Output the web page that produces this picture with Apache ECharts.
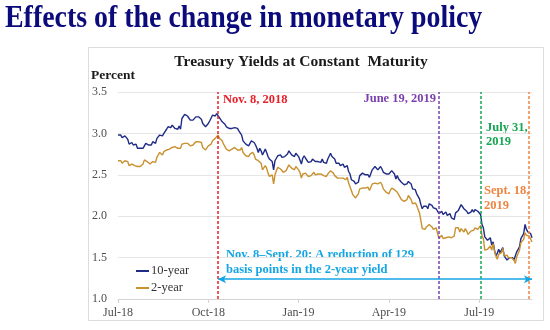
<!DOCTYPE html>
<html>
<head>
<meta charset="utf-8">
<script src="https://cdn.jsdelivr.net/npm/echarts@6/dist/echarts.min.js"></script>
<style>
  html, body { margin: 0; padding: 0; background: #ffffff; }
  #chart { width: 550px; height: 330px; }
</style>
</head>
<body>
<div id="chart"></div>
<script>
// Daily Treasury yields (percent), one value per weekday from 2018-07-31 to 2019-09-20.
const seriesNames = ['10-year', '2-year'];

const tenYear = [
  2.98, 3.00, 2.98, 2.95,
  2.94, 2.97, 2.96, 2.93, 2.87,
  2.88, 2.89, 2.86, 2.86, 2.87,
  2.82, 2.83, 2.82, 2.82, 2.82,
  2.85, 2.88, 2.88, 2.86, 2.86,
  2.86, 2.90, 2.90, 2.88, 2.94,
  2.94, 2.98, 2.97, 2.97, 3.00,
  2.99, 3.05, 3.08, 3.07, 3.07,
  3.10, 3.10, 3.06, 3.06, 3.05,
  3.09, 3.05, 3.18, 3.19, 3.23,
  3.23, 3.21, 3.22, 3.16, 3.15,
  3.16, 3.16, 3.20, 3.19, 3.20,
  3.20, 3.17, 3.12, 3.14, 3.08,
  3.08, 3.12, 3.15, 3.14, 3.22,
  3.20, 3.21, 3.24, 3.24, 3.19,
  3.19, 3.14, 3.12, 3.11, 3.08,
  3.06, 3.06, 3.06, 3.06, 3.05,
  3.07, 3.06, 3.06, 3.03, 3.01,
  2.98, 2.91, 2.91, 2.87, 2.85,
  2.85, 2.88, 2.91, 2.91, 2.89,
  2.86, 2.82, 2.77, 2.82, 2.79,
  2.74, 2.74, 2.81, 2.77, 2.72,
  2.69, 2.69, 2.66, 2.56, 2.67,
  2.70, 2.73, 2.72, 2.74, 2.71,
  2.71, 2.72, 2.73, 2.75, 2.79,
  2.79, 2.74, 2.75, 2.72, 2.76,
  2.75, 2.72, 2.70, 2.63, 2.70,
  2.73, 2.70, 2.71, 2.65, 2.63,
  2.66, 2.69, 2.71, 2.66, 2.66,
  2.66, 2.65, 2.65, 2.69, 2.65,
  2.67, 2.64, 2.69, 2.71, 2.76,
  2.72, 2.72, 2.69, 2.64, 2.62,
  2.64, 2.61, 2.61, 2.63, 2.59,
  2.60, 2.61, 2.54, 2.51, 2.44,
  2.43, 2.42, 2.39, 2.38, 2.41,
  2.49, 2.47, 2.52, 2.51, 2.50,
  2.52, 2.50, 2.47, 2.49, 2.56,
  2.55, 2.60, 2.59, 2.56, 2.56,
  2.60, 2.57, 2.53, 2.54, 2.51,
  2.53, 2.51, 2.52, 2.55, 2.54,
  2.51, 2.45, 2.49, 2.45, 2.47,
  2.41, 2.43, 2.38, 2.40, 2.39,
  2.42, 2.43, 2.39, 2.33, 2.32,
  2.32, 2.27, 2.26, 2.21, 2.14,
  2.09, 2.12, 2.12, 2.12, 2.09,
  2.15, 2.14, 2.13, 2.10, 2.09,
  2.09, 2.06, 2.03, 2.02, 2.06,
  2.02, 2.00, 2.05, 2.01, 2.00,
  2.03, 1.98, 1.96, 1.96, 2.04,
  2.05, 2.07, 2.06, 2.14, 2.12,
  2.09, 2.10, 2.06, 2.03, 2.05,
  2.05, 2.08, 2.05, 2.08, 2.08,
  2.06, 2.06, 2.02, 1.90, 1.86,
  1.75, 1.73, 1.71, 1.73, 1.74,
  1.65, 1.69, 1.59, 1.52, 1.55,
  1.60, 1.56, 1.59, 1.62, 1.52,
  1.54, 1.47, 1.47, 1.50, 1.50,
  1.50, 1.47, 1.47, 1.57, 1.55,
  1.63, 1.73, 1.75, 1.79, 1.90,
  1.84, 1.81, 1.80, 1.79, 1.74
];

const twoYear = [
  2.67, 2.69, 2.67, 2.64,
  2.64, 2.67, 2.68, 2.66, 2.61,
  2.62, 2.63, 2.61, 2.61, 2.61,
  2.60, 2.60, 2.60, 2.62, 2.63,
  2.68, 2.67, 2.66, 2.66, 2.63,
  2.63, 2.66, 2.64, 2.65, 2.71,
  2.73, 2.77, 2.75, 2.74, 2.78,
  2.78, 2.80, 2.81, 2.81, 2.81,
  2.83, 2.85, 2.84, 2.83, 2.82,
  2.82, 2.82, 2.87, 2.87, 2.88,
  2.88, 2.88, 2.88, 2.85, 2.86,
  2.86, 2.87, 2.90, 2.89, 2.90,
  2.91, 2.89, 2.83, 2.84, 2.80,
  2.81, 2.85, 2.87, 2.87, 2.91,
  2.92, 2.94, 2.96, 2.98, 2.94,
  2.94, 2.91, 2.87, 2.85, 2.81,
  2.80, 2.79, 2.81, 2.81, 2.81,
  2.83, 2.84, 2.80, 2.79, 2.80,
  2.83, 2.77, 2.77, 2.73, 2.71,
  2.72, 2.75, 2.76, 2.77, 2.74,
  2.69, 2.67, 2.67, 2.67, 2.64,
  2.56, 2.56, 2.61, 2.58, 2.52,
  2.48, 2.48, 2.50, 2.39, 2.50,
  2.55, 2.59, 2.57, 2.57, 2.55,
  2.53, 2.55, 2.55, 2.57, 2.62,
  2.62, 2.58, 2.58, 2.56, 2.60,
  2.59, 2.56, 2.53, 2.46, 2.51,
  2.53, 2.52, 2.52, 2.48, 2.46,
  2.49, 2.50, 2.53, 2.50, 2.51,
  2.51, 2.50, 2.51, 2.53, 2.49,
  2.50, 2.48, 2.51, 2.53, 2.55,
  2.53, 2.52, 2.49, 2.47, 2.46,
  2.47, 2.46, 2.45, 2.46, 2.44,
  2.44, 2.47, 2.40, 2.42, 2.31,
  2.26, 2.24, 2.22, 2.21, 2.27,
  2.33, 2.31, 2.34, 2.34, 2.34,
  2.35, 2.35, 2.31, 2.31, 2.39,
  2.38, 2.40, 2.40, 2.39, 2.39,
  2.41, 2.38, 2.33, 2.34, 2.29,
  2.28, 2.27, 2.31, 2.34, 2.34,
  2.32, 2.30, 2.29, 2.26, 2.27,
  2.20, 2.21, 2.18, 2.20, 2.20,
  2.25, 2.25, 2.20, 2.15, 2.16,
  2.16, 2.13, 2.12, 2.04, 1.95,
  1.85, 1.87, 1.84, 1.87, 1.85,
  1.90, 1.89, 1.87, 1.84, 1.84,
  1.86, 1.85, 1.73, 1.75, 1.77,
  1.73, 1.71, 1.74, 1.75, 1.75,
  1.75, 1.74, 1.76, 1.76, 1.86,
  1.87, 1.86, 1.81, 1.85, 1.85,
  1.81, 1.85, 1.82, 1.78, 1.80,
  1.82, 1.83, 1.83, 1.86, 1.85,
  1.84, 1.86, 1.89, 1.76, 1.73,
  1.59, 1.58, 1.60, 1.62, 1.64,
  1.59, 1.67, 1.58, 1.52, 1.48,
  1.54, 1.54, 1.56, 1.61, 1.52,
  1.54, 1.53, 1.50, 1.52, 1.50,
  1.50, 1.47, 1.43, 1.51, 1.53,
  1.59, 1.68, 1.67, 1.72, 1.80,
  1.77, 1.78, 1.76, 1.74, 1.69
];

// Y-axis ticks (percent)
const yTicks = [1.0, 1.5, 2.0, 2.5, 3.0, 3.5];

// Policy dates marked on the chart, and the span of the 2-year decline
const eventDates = ['2018-11-08', '2019-06-19', '2019-07-31', '2019-09-18'];
const eventColors = ['#e8202a', '#7a3fae', '#17a653', '#ee8540'];
const spanDates = ['2018-11-08', '2019-09-20'];
const spanLevel = 1.24;

// Category axis: every weekday in the sample
const dates = [];
(function () {
  const d = new Date(Date.UTC(2018, 6, 31));
  const end = new Date(Date.UTC(2019, 8, 20));
  while (d <= end) {
    const wd = d.getUTCDay();
    if (wd !== 0 && wd !== 6) dates.push(d.toISOString().slice(0, 10));
    d.setUTCDate(d.getUTCDate() + 1);
  }
})();

// One labelled tick per quarter (every 65 weekdays)
const TICK_STEP = 65;
const MONTHS = ['Jan','Feb','Mar','Apr','May','Jun','Jul','Aug','Sep','Oct','Nov','Dec'];
function monthLabel(s) {
  return MONTHS[+s.slice(5, 7) - 1] + '-' + s.slice(2, 4);
}
function isQuarterTick(idx) {
  return idx % TICK_STEP === 0;
}

const SERIF = '"Liberation Serif", "Times New Roman", serif';
const BLUE = '#1f2c86';
const GOLD = '#c9912f';
const CYAN = '#14a6e4';

const chart = echarts.init(document.getElementById('chart'), null, { renderer: 'canvas' });

const vLines = eventDates.map((d, k) => ({
  xAxis: d,
  lineStyle: { color: eventColors[k], type: [3, 2], width: 1.5 }
}));

chart.setOption({
  animation: false,
  backgroundColor: '#ffffff',
  grid: { left: 118, right: 18, top: 92, bottom: 31, containLabel: false },
  legend: {
    orient: 'vertical',
    left: 136,
    top: 264,
    padding: 0,
    itemGap: 3,
    itemWidth: 13,
    itemHeight: 2,
    icon: 'rect',
    textStyle: { fontFamily: SERIF, fontSize: 12.5, color: '#333333', lineHeight: 14, padding: [0, 0, 0, -3] },
    data: seriesNames
  },
  xAxis: {
    type: 'category',
    data: dates,
    boundaryGap: false,
    axisLine: { show: true, lineStyle: { color: '#d4d4d4', width: 1 } },
    axisTick: { show: true, interval: isQuarterTick, length: 4, lineStyle: { color: '#d4d4d4' } },
    axisLabel: {
      interval: isQuarterTick,
      margin: 8,
      fontFamily: SERIF,
      fontSize: 12,
      color: '#4d4d4d',
      formatter: monthLabel
    },
    splitLine: { show: false }
  },
  yAxis: {
    type: 'value',
    min: yTicks[0],
    max: yTicks[yTicks.length - 1],
    interval: 0.5,
    axisLine: { show: false },
    axisTick: { show: false },
    axisLabel: {
      margin: 11,
      fontFamily: SERIF,
      fontSize: 12,
      color: '#4d4d4d',
      formatter: v => v.toFixed(1)
    },
    splitLine: { lineStyle: { color: '#e6e6e6', width: 1 } }
  },
  series: [
    {
      name: seriesNames[0],
      type: 'line',
      data: tenYear,
      showSymbol: false,
      symbol: 'none',
      color: BLUE,
      lineStyle: { color: BLUE, width: 1.4 },
      z: 3
    },
    {
      name: seriesNames[1],
      type: 'line',
      data: twoYear,
      showSymbol: false,
      symbol: 'none',
      color: GOLD,
      lineStyle: { color: GOLD, width: 1.4 },
      z: 3,
      markLine: {
        silent: true,
        symbol: ['none', 'none'],
        label: { show: false },
        z: 4,
        data: vLines.concat([[
          { coord: [spanDates[0], spanLevel], symbol: 'arrow', symbolSize: [6, 8] },
          { coord: [spanDates[1], spanLevel], symbol: 'arrow', symbolSize: [6, 8] }
        ]]),
        lineStyle: { color: CYAN, type: 'solid', width: 1.5 }
      }
    }
  ],
  graphic: [
    {
      type: 'rect',
      z: -10,
      shape: { x: 88.5, y: 47.5, width: 455, height: 273 },
      style: { fill: '#ffffff', stroke: '#dcdcdc', lineWidth: 1 }
    },
    {
      type: 'text',
      x: 5, y: 19, scaleX: 0.9,
      style: {
        text: 'Effects of the change in monetary policy',
        font: 'bold 31px ' + SERIF,
        fill: '#0b0b7c',
        textAlign: 'left', textVerticalAlign: 'middle'
      }
    },
    {
      type: 'text',
      x: 301, y: 62,
      style: {
        text: 'Treasury Yields at Constant  Maturity',
        font: 'bold 15.5px ' + SERIF,
        fill: '#1a1a1a',
        textAlign: 'center', textVerticalAlign: 'middle'
      }
    },
    {
      type: 'text',
      x: 91, y: 76,
      style: {
        text: 'Percent',
        font: 'bold 13.5px ' + SERIF,
        fill: '#1a1a1a',
        textAlign: 'left', textVerticalAlign: 'middle'
      }
    },
    {
      type: 'text',
      x: 223, y: 100,
      style: {
        text: 'Nov. 8, 2018',
        font: 'bold 12.5px ' + SERIF,
        fill: eventColors[0],
        textAlign: 'left', textVerticalAlign: 'middle'
      }
    },
    {
      type: 'text',
      x: 436, y: 99,
      style: {
        text: 'June 19, 2019',
        font: 'bold 12.5px ' + SERIF,
        fill: eventColors[1],
        textAlign: 'right', textVerticalAlign: 'middle'
      }
    },
    {
      type: 'text',
      x: 486, y: 121,
      style: {
        text: 'July 31,\n2019',
        font: 'bold 12.5px ' + SERIF,
        lineHeight: 14,
        fill: eventColors[2],
        textAlign: 'left', textVerticalAlign: 'top'
      }
    },
    {
      type: 'text',
      x: 484, y: 183,
      style: {
        text: 'Sept. 18,\n2019',
        font: 'bold 12.5px ' + SERIF,
        lineHeight: 15,
        fill: eventColors[3],
        textAlign: 'left', textVerticalAlign: 'top'
      }
    },
    {
      type: 'text',
      x: 226, y: 247,
      style: {
        text: 'Nov. 8\u2013Sept. 20: A reduction of 129\nbasis points in the 2-year yield',
        font: 'bold 12.5px ' + SERIF,
        lineHeight: 15,
        fill: CYAN,
        textAlign: 'left', textVerticalAlign: 'top'
      }
    }
  ]
});
</script>
</body>
</html>
